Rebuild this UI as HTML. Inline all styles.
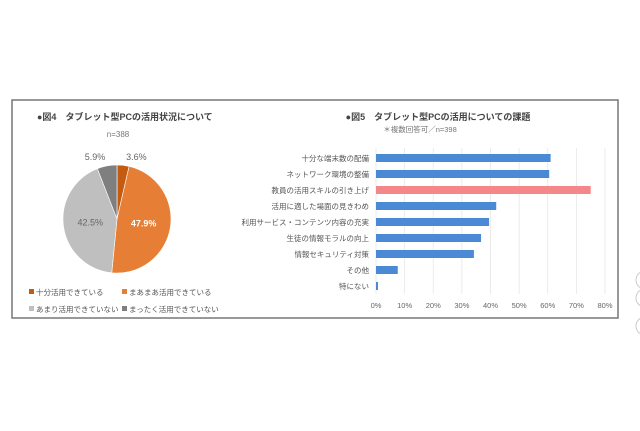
<!DOCTYPE html>
<html><head><meta charset="utf-8"><style>
body{margin:0;background:#fff;font-family:"Liberation Sans","Noto Sans CJK JP",sans-serif;}
svg text{font-family:"Liberation Sans","Noto Sans CJK JP",sans-serif;}
</style></head><body>
<svg width="640" height="426" viewBox="0 0 640 426">
<rect x="12" y="100" width="606" height="218" fill="#fff" stroke="#777" stroke-width="1.5"/>
<circle cx="645" cy="280" r="9" fill="#fff" stroke="#ccc"/>
<circle cx="645" cy="298" r="9" fill="#fff" stroke="#ccc"/>
<circle cx="645" cy="326" r="9" fill="#fff" stroke="#ccc"/>
<text x="37" y="120" font-size="9" font-weight="bold" fill="#444">●図4　タブレット型PCの活用状況について</text>
<text x="118" y="137" font-size="8" fill="#777" text-anchor="middle">n=388</text>
<g id="pie"></g>
<g id="pielegend"></g>
<text x="438" y="120" font-size="9" font-weight="bold" fill="#444" text-anchor="middle">●図5　タブレット型PCの活用についての課題</text>
<text x="420" y="132" font-size="7.5" fill="#777" text-anchor="middle">＊複数回答可／n=398</text>
<g id="bars"></g>
</svg>
<script>
const pieLabels=["十分活用できている","まあまあ活用できている","あまり活用できていない","まったく活用できていない"];
const pieValues=[3.6,47.9,42.5,5.9];
const pieColors=["#c55a11","#e67e35","#bfbfbf","#7f7f7f"];
const barCats=["十分な端末数の配備","ネットワーク環境の整備","教員の活用スキルの引き上げ","活用に適した場面の見きわめ","利用サービス・コンテンツ内容の充実","生徒の情報モラルの向上","情報セキュリティ対策","その他","特にない"];
const barValues=[61,60.5,75,42,39.5,36.7,34.2,7.6,0.7];
const xTicks=[0,10,20,30,40,50,60,70,80];
const NS="http://www.w3.org/2000/svg";
function mk(p,t,a){const e=document.createElementNS(NS,t);for(const k in a)e.setAttribute(k,a[k]);p.appendChild(e);return e;}
// pie
const pie=document.getElementById('pie');
const cx=117,cy=219,r=54;
const tot=pieValues.reduce((a,b)=>a+b,0);
let ang=0;
const labelPos=[[134,211],null,[88,222],[94,211]];
pieValues.forEach((v,i)=>{
 const a0=ang/tot*2*Math.PI, a1=(ang+v)/tot*2*Math.PI; ang+=v;
 const x0=cx+r*Math.sin(a0),y0=cy-r*Math.cos(a0),x1=cx+r*Math.sin(a1),y1=cy-r*Math.cos(a1);
 const s=mk(pie,'path',{d:`M${cx},${cy}L${x0},${y0}A${r},${r} 0 ${a1-a0>Math.PI?1:0} 1 ${x1},${y1}Z`,fill:pieColors[i],stroke:'#fff','stroke-width':0.6});
 
 
 const mid=(a0+a1)/2;
 let lx,ly,fill='#666',fw='normal';
 if(i===0){lx=cx+r*0.1+14;ly=cy-r-5;} else if(i===3){lx=cx-22;ly=cy-r-5;}
 else {lx=cx+r*0.5*Math.sin(mid);ly=cy-r*0.5*Math.cos(mid)+3; if(i===1){fill='#fff';fw='bold';}}
 const t=mk(pie,'text',{x:lx,y:ly,'font-size':9,fill:fill,'font-weight':fw,'text-anchor':'middle'});
 t.textContent=v.toFixed(1)+'%';
 
 
});
const lg=document.getElementById('pielegend');
const lp=[[29,295],[122,295],[29,312],[122,312]];
pieLabels.forEach((l,i)=>{
 const s=mk(lg,'rect',{x:lp[i][0],y:lp[i][1]-6,width:5,height:5,fill:pieColors[i]});
 
 
 const t=mk(lg,'text',{x:lp[i][0]+7,y:lp[i][1],'font-size':7.5,fill:'#555'});
 t.textContent=l;
 
 
});
// bars
const bg=document.getElementById('bars');
const x0=376,x80=605,top0=158,step=16;
const X=v=>x0+(x80-x0)*v/80;
const Y=i=>top0+i*step;
xTicks.forEach(t=>{
 const g=mk(bg,'line',{x1:X(t),x2:X(t),y1:148,y2:294,stroke:'#e6e6e6','stroke-width':0.8});
 
 
 const tx=mk(bg,'text',{x:X(t),y:308,'font-size':7.5,fill:'#666','text-anchor':'middle'});
 tx.textContent=t+'%';
 
 
});
barCats.forEach((c,i)=>{
 const b=mk(bg,'rect',{x:X(0),y:Y(i)-4,width:X(barValues[i])-X(0),height:8,fill:i===2?'#f4878a':'#4a8ad4'});
 
 
 const t=mk(bg,'text',{x:369,y:Y(i)+3,'font-size':7.5,fill:'#555','text-anchor':'end'});
 t.textContent=c;
 
 
});
</script>
</body></html>
